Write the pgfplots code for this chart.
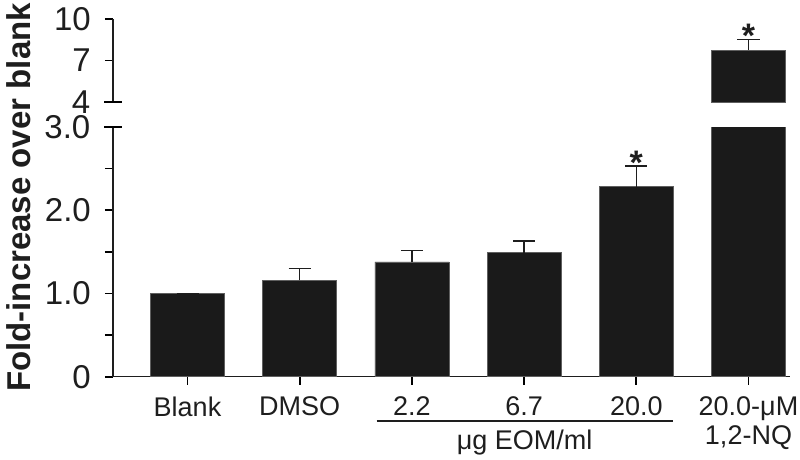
\documentclass[border=0pt]{standalone}
\usepackage{pgfplots}
\pgfplotsset{compat=1.18}
\usepackage{fontspec}
\setmainfont{Liberation Sans}
\definecolor{barc}{RGB}{26,26,26}
\definecolor{axc}{RGB}{30,30,30}
\pgfplotstableread{
x y e
0 1.0 0
1 1.157 0.143
2 1.38 0.14
3 1.49 0.14
4 2.285 0.245
5 7.76 0.77
}\lowdata
\pgfplotstableread{
x y e
5 7.76 0.77
}\updata
\pgfplotsset{
  common/.style={
    scale only axis, width=677bp, xmin=-0.664, xmax=5.37,
    axis line style={line width=1.3bp, axc, -},
    /pgf/number format/assume math mode=true,
    yticklabel style={font=\fontsize{33bp}{36bp}\selectfont, inner sep=0pt, anchor=east, xshift=-14bp, text=axc},
    axis x line*=bottom, axis y line*=left,
    xtick pos=left, ytick pos=left,
    tick style={line width=1.6bp, black},
    major tick style={line width=1.6bp, black},
    minor tick style={line width=1.6bp, black},
    major tick length=8bp, minor tick length=8bp,
    tick align=outside,
    extra y tick style={tick align=center, major tick length=17bp, major tick style={line width=1.5bp, black}},
  },
  barstyle/.style={ybar, bar width=0.66, fill=barc, draw=barc!70, line width=0.5bp,
    error bars/.cd, y dir=plus, y explicit, error mark=|,
    error bar style={line width=1.3bp, axc},
    error mark options={line width=1.3bp, mark size=11bp, axc}},
  starstyle/.style={draw=none, mark=none, nodes near coords={\bfseries *},
    every node near coord/.append style={anchor=base, yshift=-8bp, inner sep=0pt,
    font=\fontsize{34bp}{34bp}\selectfont, text=axc}},
}
\begin{document}
\begin{tikzpicture}
\useasboundingbox (0,0) rectangle (800bp,-460bp);
\begin{axis}[common, at={(113bp,-376.7bp)}, anchor=south west,
  height=249.7bp, ymin=0, ymax=3,
  ytick={0,1,2}, yticklabels={0,1.0,2.0}, minor ytick={0.5,1.5,2.5},
  extra y ticks={3}, extra y tick labels={3.0},
  xtick={0,...,5},
  xticklabels={Blank,DMSO,2.2,6.7,20.0,{20.0-μM\\1,2-NQ}},
  xticklabel style={font=\fontsize{27bp}{29bp}\selectfont, align=center, text=axc,
    inner sep=0pt, anchor=north, yshift=-12bp},
]
\addplot[barstyle] table[x=x, y=y, y error=e] {\lowdata};
\addplot[starstyle] coordinates {(4,2.53)};
\end{axis}
\begin{axis}[common, at={(113bp,-102bp)}, anchor=south west,
  height=83bp, ymin=4, ymax=10,
  x axis line style={draw=none},
  xtick=\empty, ytick={7,10},
  extra y ticks={4}, extra y tick labels={4},
]
\addplot[barstyle] table[x=x, y=y, y error=e] {\updata};
\addplot[starstyle] coordinates {(5,8.53)};
\end{axis}
\draw[line width=1.5bp, axc] (376.7bp,-421bp) -- (672.7bp,-421bp);
\node[font=\fontsize{27bp}{29bp}\selectfont, anchor=base, text=axc] at (524.7bp,-449.5bp) {μg EOM/ml};
\node[rotate=90, font=\bfseries\fontsize{33bp}{36bp}\selectfont, text=axc] at (18.5bp,-197.5bp) {Fold-increase over blank};
\end{tikzpicture}
\end{document}
